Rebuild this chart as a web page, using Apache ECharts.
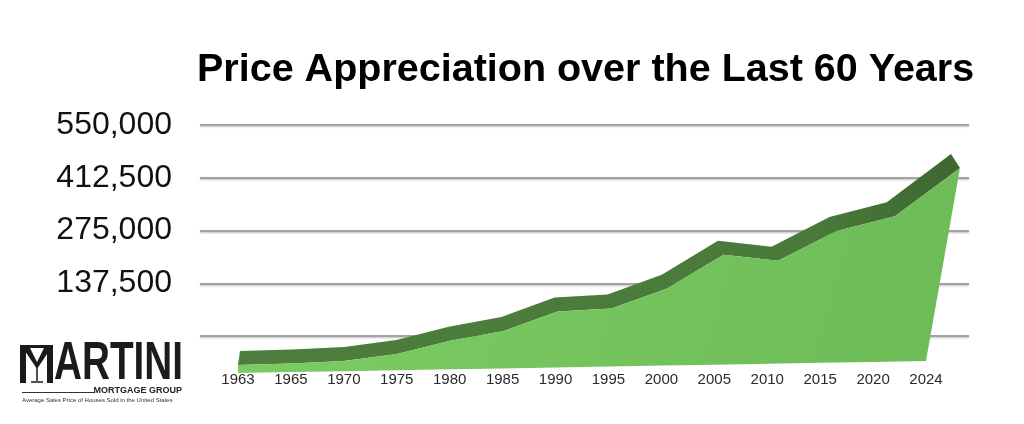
<!DOCTYPE html>
<html>
<head>
<meta charset="utf-8">
<title>Price Appreciation over the Last 60 Years</title>
<script src="https://cdn.jsdelivr.net/npm/echarts@6/dist/echarts.min.js"></script>
<style>
  html, body { margin: 0; padding: 0; background: #fff; }
  #chart { width: 1024px; height: 424px; }
</style>
</head>
<body>
<div id="chart"></div>
<script>
// average sales price of houses sold in the US
const years = ['1963', '1965', '1970', '1975', '1980', '1985', '1990', '1995', '2000', '2005', '2010', '2015', '2020', '2024']
const prices = [21000, 23000, 27000, 43000, 76000, 99000, 149000, 154000, 204000, 292000, 274000, 350000, 387000, 513000]
const yTicks = [0, 137500, 275000, 412500, 550000]

const font = 'Liberation Sans, Arial, Helvetica, sans-serif'

const faceFill = {
  type: 'linear', x: 0, y: 0, x2: 1, y2: 1,
  colorStops: [{ offset: 0, color: '#7dcc63' }, { offset: 1, color: '#6cbb57' }]
}
const bandFill = {
  type: 'linear', x: 0, y: 0, x2: 1, y2: 0,
  colorStops: [{ offset: 0, color: '#4d7e3d' }, { offset: 0.8, color: '#497a3a' }, { offset: 1, color: '#3d6631' }]
}

// fake 3d: slab front face + top band, with a bit of lean/tilt like the keynote original
function renderArea (params, api) {
  if (params.dataIndex !== 0) return
  const x0 = api.coord([0, 0])[0]
  const x1 = api.coord([prices.length - 1, 0])[0]
  const front = []
  const floor = []
  const back = []
  prices.forEach((v, i) => {
    const p = api.coord([i, v])
    const b = api.coord([i, 0])
    const t = (b[0] - x0) / (x1 - x0)
    const tilt = 6 - 12 * t
    const lean = (b[1] - p[1]) * 0.176 * t * t
    const top = [p[0] + lean, p[1] + tilt]
    front.push(top)
    floor.push([b[0], b[1] + tilt])
    back.push([top[0] + 2 - 11 * t, top[1] - 14])
  })
  return {
    type: 'group',
    children: [
      { type: 'polygon', shape: { points: front.concat(back.slice().reverse()) }, style: { fill: bandFill } },
      { type: 'polygon', shape: { points: front.concat(floor.slice().reverse()) }, style: { fill: faceFill } }
    ]
  }
}

const chart = echarts.init(document.getElementById('chart'))

chart.setOption({
  animation: false,
  title: {
    text: 'Price Appreciation over the Last 60 Years',
    left: 192,
    top: 45,
    textStyle: { fontFamily: font, fontSize: 39.5, fontWeight: 'bold', color: '#000' }
  },
  grid: [
    // back wall with gridlines
    { left: 200, right: 55, top: 125, bottom: 88 },
    // the series itself
    { left: 238, right: 98, top: 160, bottom: 57 }
  ],
  xAxis: [
    { gridIndex: 0, type: 'category', data: years, show: false },
    {
      gridIndex: 1,
      type: 'category',
      data: years,
      boundaryGap: false,
      axisLine: { show: false },
      axisTick: { show: false },
      axisLabel: { margin: 5, fontFamily: font, fontSize: 15, color: '#2a2a2a' }
    }
  ],
  yAxis: [
    {
      gridIndex: 0,
      type: 'value',
      min: yTicks[0],
      max: yTicks[yTicks.length - 1],
      interval: yTicks[1] - yTicks[0],
      axisLine: { show: false },
      axisTick: { show: false },
      axisLabel: {
        showMinLabel: false,
        margin: 28,
        fontFamily: font,
        fontSize: 32,
        color: '#111',
        formatter: (v) => v.toLocaleString('en-US')
      },
      splitLine: {
        lineStyle: { color: '#a3a3a3', width: 2, shadowColor: 'rgba(0,0,0,0.25)', shadowBlur: 2, shadowOffsetY: 1 }
      }
    },
    {
      gridIndex: 1,
      type: 'value',
      min: yTicks[0],
      max: yTicks[yTicks.length - 1],
      show: false,
      splitLine: { show: false }
    }
  ],
  graphic: [
    // martini logo
    { type: 'rect', left: 20, top: 345, shape: { width: 6, height: 38 }, style: { fill: '#1b1b1b' } },
    { type: 'rect', left: 47, top: 345, shape: { width: 6, height: 38 }, style: { fill: '#1b1b1b' } },
    { type: 'polyline', shape: { points: [[21, 346.5], [52, 346.5]] }, style: { stroke: '#1b1b1b', lineWidth: 3 } },
    { type: 'polygon', shape: { points: [[23, 348], [30, 348], [37, 362], [44, 348], [51, 348], [37, 369]] }, style: { fill: '#1b1b1b' } },
    { type: 'polyline', shape: { points: [[37, 368], [37, 381]] }, style: { stroke: '#1b1b1b', lineWidth: 1.5 } },
    { type: 'polyline', shape: { points: [[31, 382], [43, 382]] }, style: { stroke: '#1b1b1b', lineWidth: 1.5 } },
    {
      type: 'text', x: 54, y: 364, scaleX: 0.73,
      style: { text: 'ARTINI', font: 'bold 53px ' + font, fill: '#1b1b1b', verticalAlign: 'middle' }
    },
    { type: 'polyline', shape: { points: [[22, 392.5], [95, 392.5]] }, style: { stroke: '#333', lineWidth: 1 } },
    {
      type: 'text', x: 182, y: 391,
      style: { text: 'MORTGAGE GROUP', font: 'bold 9px ' + font, fill: '#222', align: 'right', verticalAlign: 'middle' }
    },
    {
      type: 'text', x: 22, y: 400,
      style: { text: 'Average Sales Price of Houses Sold in the United States', font: '6px ' + font, fill: '#333', verticalAlign: 'middle' }
    }
  ],
  series: [
    {
      type: 'custom',
      name: 'Average price',
      xAxisIndex: 1,
      yAxisIndex: 1,
      clip: false,
      silent: true,
      renderItem: renderArea,
      data: prices.map((v, i) => [i, v])
    }
  ]
})
</script>
</body>
</html>
